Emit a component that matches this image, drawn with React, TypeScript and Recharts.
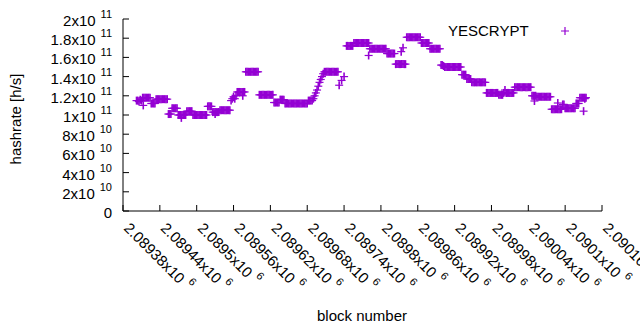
import React from 'react';
import { ScatterChart, Scatter, XAxis, YAxis, Legend, Label } from 'recharts';

// Block numbers are stored as offsets from this block; hashrates in units of 1e9 h/s.
const BLOCK_BASE = 2089380;

const xTicks = [2089380, 2089440, 2089500, 2089560, 2089620, 2089680, 2089740, 2089800, 2089860, 2089920, 2089980, 2090040, 2090100, 2090160];
const yTicks = [0, 2e10, 4e10, 6e10, 8e10, 1e11, 1.2e11, 1.4e11, 1.6e11, 1.8e11, 2e11];

const leftSamples: [number, number][] = [
  [22, 115], [24, 115], [26, 114], [28, 116], [30, 115],
  [32, 118], [34, 118], [36, 118], [38, 118], [40, 118], [42, 118], [44, 118],
  [46, 112], [48, 112], [50, 112], [52, 112],
  [54, 116.5], [56, 116.5], [58, 116.5], [60, 116.5], [62, 116.5], [64, 116.5], [66, 116.5], [68, 116.5], [70, 116.5], [72, 116.5],
  [74, 101], [76, 101], [78, 101],
  [80, 107], [82, 107], [84, 107], [86, 107], [88, 107],
  [90, 100], [92, 100], [94, 100], [96, 100], [98, 100], [100, 100], [102, 100],
  [104, 104], [106, 104], [108, 104], [110, 104], [112, 104],
  [114, 100], [116, 100], [118, 100], [120, 100], [122, 100], [124, 100], [126, 100], [128, 100], [130, 100], [132, 100], [134, 100], [136, 100],
  [138, 109], [140, 109], [142, 109], [144, 109],
  [146, 103], [148, 103], [150, 103], [152, 103], [154, 103], [156, 103],
  [158, 105], [160, 105], [162, 105], [164, 105], [166, 105], [168, 105], [170, 105], [172, 105], [174, 105],
  [176, 115], [178, 117], [180, 119], [182, 117], [184, 120],
  [186, 124], [188, 124], [190, 124], [192, 124], [194, 124], [196, 124], [198, 124],
  [200, 145], [202, 145], [204, 145], [206, 145], [208, 145], [210, 145], [212, 145], [214, 145], [216, 145], [218, 145], [220, 145],
  [222, 121], [224, 121], [226, 121], [228, 121], [230, 121], [232, 121], [234, 121], [236, 121], [238, 121], [240, 121], [242, 121], [244, 121],
];

const midSamples: [number, number][] = [
  [246, 113], [248, 113], [250, 113], [252, 113], [254, 113],
  [256, 116], [258, 116], [260, 116], [262, 116],
  [264, 112], [266, 112], [268, 112], [270, 112], [272, 112], [274, 112], [276, 112], [278, 112], [280, 112], [282, 112],
  [284, 112], [286, 112], [288, 112], [290, 112], [292, 112], [294, 112], [296, 112], [298, 112], [300, 112],
  [302, 115], [304, 115], [306, 115], [308, 115],
  [310, 117], [312, 120], [314, 123], [316, 126], [318, 130], [320, 134], [322, 137], [324, 140], [326, 143],
  [328, 145], [330, 145], [332, 145], [334, 145], [336, 145], [338, 145], [340, 145], [342, 145], [344, 145], [346, 145], [348, 145], [350, 145],
  [352, 131], [356, 136], [360, 140],
  [364, 172], [366, 172], [368, 172], [370, 172], [372, 172], [374, 172],
  [376, 175], [378, 175], [380, 175], [382, 175], [384, 175], [386, 175], [388, 175], [390, 175], [392, 175], [394, 175], [396, 175], [398, 175], [400, 175],
  [402, 169], [404, 169], [406, 169], [408, 169], [410, 169], [412, 169], [414, 169], [416, 169], [418, 169], [420, 169], [422, 169], [424, 169], [426, 169], [428, 169],
  [430, 164], [432, 164], [434, 164], [436, 164], [438, 164], [440, 164], [442, 164],
  [444, 153], [446, 153], [448, 153], [450, 153], [452, 153], [454, 153], [456, 153], [458, 153], [460, 153],
  [462, 181], [464, 181], [466, 181], [468, 181], [470, 181], [472, 181], [474, 181], [476, 181], [478, 181], [480, 181], [482, 181], [484, 181],
  [486, 175], [488, 175], [490, 175], [492, 175], [494, 175], [496, 175], [498, 175],
];

const rightSamples: [number, number][] = [
  [500, 169], [502, 169], [504, 169], [506, 169], [508, 169], [510, 169], [512, 169], [514, 169], [516, 169],
  [518, 152], [520, 152], [522, 151],
  [524, 150], [526, 150], [528, 150], [530, 150], [532, 150], [534, 150], [536, 150], [538, 150], [540, 150], [542, 150], [544, 150], [546, 150], [548, 150], [550, 150],
  [552, 142], [554, 142], [556, 142], [558, 142],
  [560, 137.5], [562, 137.5], [564, 137.5], [566, 137.5],
  [568, 134], [570, 134], [572, 134], [574, 134], [576, 134], [578, 134], [580, 134], [582, 134], [584, 134], [586, 134], [588, 134], [590, 134],
  [592, 123], [594, 123], [596, 123], [598, 123], [600, 123], [602, 123], [604, 123], [606, 123], [608, 123], [610, 123],
  [612, 121], [614, 121], [616, 121], [618, 121],
  [620, 123], [622, 126], [624, 123], [626, 123], [628, 123], [630, 123], [632, 123], [634, 123], [636, 123],
  [638, 129], [640, 129], [642, 129], [644, 129], [646, 129], [648, 129], [650, 129], [652, 129], [654, 129], [656, 129], [658, 129], [660, 129], [662, 129], [664, 129],
  [666, 120], [668, 120], [670, 120], [672, 120],
  [674, 119], [676, 119], [678, 119], [680, 119], [682, 119], [684, 119], [686, 119], [688, 119], [690, 119], [692, 119], [694, 119], [696, 119],
  [698, 106], [700, 106], [702, 106], [704, 106], [706, 106], [708, 106], [710, 106], [712, 106], [714, 106],
  [716, 111], [718, 111],
  [720, 107], [722, 107], [724, 107], [726, 107], [728, 107], [730, 107], [732, 107], [734, 107], [736, 107],
  [738, 112], [740, 112], [742, 112],
  [744, 118], [746, 118], [748, 118], [750, 118], [752, 118], [754, 118],
];

const strayPoints: [number, number][] = [
  [33, 110], [95, 97], [150, 101], [195, 120], [400, 162], [453, 166], [456, 170],
  [670, 114.6], [708, 112.5], [750, 104], [752, 117],
];

const data = [...leftSamples, ...midSamples, ...rightSamples, ...strayPoints].map(([off, h]) => ({
  block: BLOCK_BASE + off,
  hash: h * 1e9,
}));

const FONT = "'Liberation Sans', Arial, Helvetica, sans-serif";
const PURPLE = '#9400d3';

function sci(v: number): [string, string | null] {
  if (v === 0) return ['0', null];
  const e = Math.floor(Math.log10(v) + 1e-9);
  const m = parseFloat((v / Math.pow(10, e)).toFixed(4));
  return [`${m}x10`, String(e)];
}

const YTick = (props: any) => {
  const { x, y, payload } = props;
  const [main, exp] = sci(payload.value);
  return (
    <text x={x} y={y + 7} textAnchor="end" fontSize={15} fontFamily={FONT} fill="#000">
      <tspan>{main}</tspan>
      {exp && (
        <tspan dx={5} dy={-8} fontSize={11}>
          {exp}
        </tspan>
      )}
    </text>
  );
};

const XTick = (props: any) => {
  const { x, y, payload } = props;
  const main = `${parseFloat((payload.value / 1e6).toFixed(5))}x10`;
  return (
    <text x={x} y={y} transform={`rotate(45, ${x}, ${y})`} fontSize={15} fontFamily={FONT} fill="#000">
      <tspan>{main}</tspan>
      <tspan dx={5} dy={-8} fontSize={11}>
        6
      </tspan>
    </text>
  );
};

const Plus = (props: any) => {
  const { cx, cy } = props;
  if (cx == null || cy == null) return null;
  return (
    <g>
      <path d={`M${cx - 4},${cy}h8`} stroke={PURPLE} strokeWidth={1.2} fill="none" />
      <path d={`M${cx},${cy - 4}v8`} stroke={PURPLE} strokeWidth={1.6} fill="none" />
    </g>
  );
};

const LegendBox = () => (
  <div style={{ display: 'flex', alignItems: 'center', height: 22, fontFamily: FONT, fontSize: 15, color: '#000' }}>
    <span style={{ lineHeight: '22px', whiteSpace: 'nowrap' }}>YESCRYPT</span>
    <svg width={10} height={10} style={{ marginLeft: 31 }}>
      <path d="M1,5h8M5,1v8" stroke={PURPLE} strokeWidth={1.2} fill="none" />
    </svg>
  </div>
);

export default function App() {
  return (
    <div style={{ position: 'absolute', left: 0, top: 0, width: 640, height: 330, background: '#fff' }}>
      <ScatterChart width={640} height={330} margin={{ top: 19, right: 38, bottom: 0, left: 0 }}>
        <XAxis
          xAxisId="b"
          dataKey="block"
          type="number"
          domain={[2089380, 2090160]}
          ticks={xTicks}
          interval={0}
          height={119}
          tickSize={-6}
          tickMargin={24}
          tick={<XTick />}
          stroke="#000"
          allowDataOverflow
        >
          <Label
            content={() => (
              <text x={362} y={321} textAnchor="middle" fontSize={15} fontFamily={FONT} fill="#000">
                block number
              </text>
            )}
          />
        </XAxis>
        <XAxis
          xAxisId="t"
          orientation="top"
          type="number"
          domain={[2089380, 2090160]}
          ticks={xTicks}
          interval={0}
          height={0}
          tickSize={-6}
          tick={false}
          stroke="#000"
        />
        <YAxis
          yAxisId="l"
          dataKey="hash"
          type="number"
          domain={[0, 2e11]}
          ticks={yTicks}
          interval={0}
          width={123}
          tickSize={-6}
          tickMargin={17}
          tick={<YTick />}
          stroke="#000"
          allowDataOverflow
        >
          <Label
            content={() => (
              <text x={21} y={119} transform="rotate(-90, 21, 119)" textAnchor="middle" fontSize={15} fontFamily={FONT} fill="#000">
                hashrate [h/s]
              </text>
            )}
          />
        </YAxis>
        <YAxis
          yAxisId="r"
          orientation="right"
          type="number"
          domain={[0, 2e11]}
          ticks={yTicks}
          interval={0}
          width={0}
          tickSize={-6}
          tick={false}
          stroke="#000"
        />
        <Legend
          layout="vertical"
          align="center"
          verticalAlign="middle"
          content={() => <LegendBox />}
          wrapperStyle={{ position: 'absolute', left: 448, top: 20, width: 150 }}
        />
        <Scatter
          name="YESCRYPT"
          data={data}
          xAxisId="b"
          yAxisId="l"
          shape={<Plus />}
          isAnimationActive={false}
        />
      </ScatterChart>
    </div>
  );
}
